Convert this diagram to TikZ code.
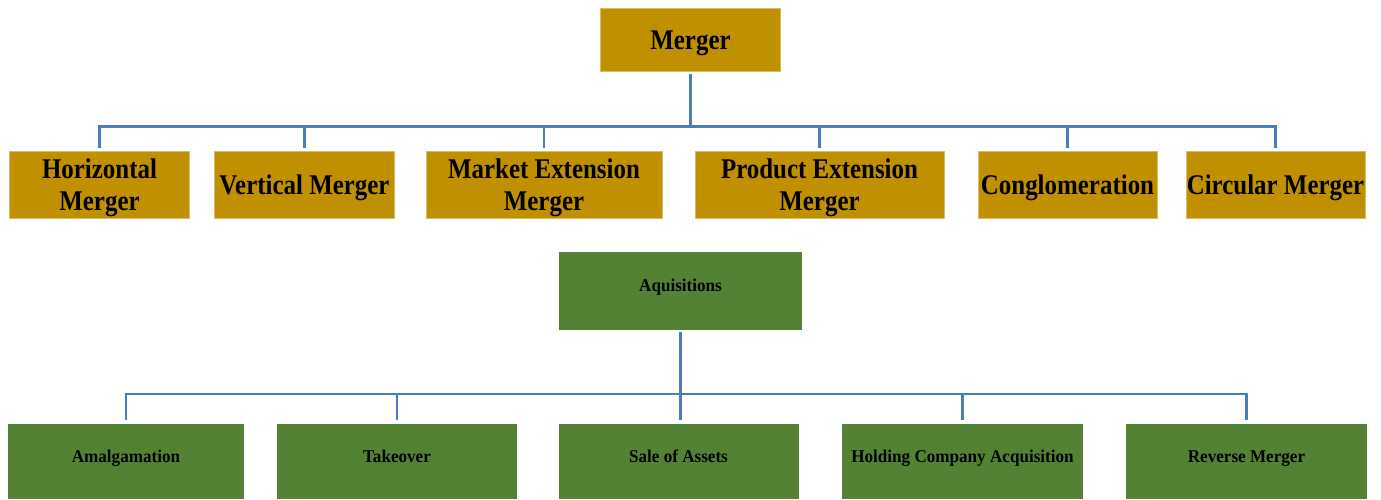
\documentclass[tikz,border=0pt]{standalone}
\usepackage{fontspec}
\setmainfont{Liberation Serif}
\newfontfamily\condf[FakeStretch=0.875]{Liberation Serif}
\newfontfamily\smallf[FakeStretch=0.95]{Liberation Serif}
\newcommand\mstrut{\rule{0pt}{25.5pt}}
\definecolor{gold}{RGB}{192,144,0}
\definecolor{leaf}{RGB}{84,130,53}
\definecolor{linkblue}{RGB}{74,126,187}
\begin{document}
\begin{tikzpicture}[x=1pt,y=-1pt,
  mbox/.style={fill=gold, draw=gold!60!white, line width=0.6pt, inner sep=0pt, align=center,
    font=\condf\bfseries\fontsize{28.5}{32}\selectfont, minimum height=67pt},
  abox/.style={fill=leaf, inner sep=0pt, align=center,
    font=\smallf\bfseries\fontsize{18}{21}\selectfont},
  conn/.style={draw=linkblue, line width=2.6pt}
]
\useasboundingbox (0,0) rectangle (1381,499);
% Merger tree
\node[mbox, minimum width=180pt, minimum height=63pt] (merger) at (690.5,39.5) {\mstrut Merger};
\node[mbox, minimum width=180pt] (hm) at (99.5,184.5) {\mstrut Horizontal\\Merger};
\node[mbox, minimum width=180pt] (vm) at (304.5,184.5) {\mstrut Vertical Merger};
\node[mbox, minimum width=236pt] (me) at (544,184.5) {\mstrut Market Extension\\Merger};
\node[mbox, minimum width=249pt] (pe) at (819.5,184.5) {\mstrut Product Extension\\Merger};
\node[mbox, minimum width=179pt] (cg) at (1067.5,184.5) {\mstrut Conglomeration};
\node[mbox, minimum width=179pt] (cm) at (1275.5,184.5) {\mstrut Circular Merger};
\coordinate (bus1) at (690.5,126.5);
\draw[conn] ([yshift=-3pt]merger.south) -- (bus1);
\draw[conn] ([yshift=3pt]hm.north) |- ([yshift=24.5pt]cm.north) -- ([yshift=3pt]cm.north);
\foreach \n in {vm,me,pe,cg}
  \draw[conn] ([yshift=24.5pt]\n.north) -- ([yshift=3pt]\n.north);
% Acquisitions tree
\node[abox, minimum width=243pt, minimum height=78pt, text depth=12pt] (acq) at (680.5,291) {Aquisitions};
\node[abox, minimum width=236pt, minimum height=75pt, text depth=10pt] (am) at (126,461.5) {Amalgamation};
\node[abox, minimum width=240pt, minimum height=75pt, text depth=10pt] (to) at (397,461.5) {Takeover};
\node[abox, minimum width=240pt, minimum height=75pt, text depth=10pt] (sa) at (678.5,461.5) {Sale of Assets};
\node[abox, minimum width=241pt, minimum height=75pt, text depth=10pt] (hc) at (962.5,461.5) {Holding Company Acquisition};
\node[abox, minimum width=241pt, minimum height=75pt, text depth=10pt] (rm) at (1246.5,461.5) {Reverse Merger};
\draw[conn] ([yshift=-2pt]acq.south) -- ([yshift=4pt]sa.north -| acq.south);
\draw[conn] ([yshift=4pt]am.north) |- ([yshift=30pt]rm.north) -- ([yshift=4pt]rm.north);
\foreach \n in {to,hc}
  \draw[conn] ([yshift=30pt]\n.north) -- ([yshift=4pt]\n.north);
\end{tikzpicture}
\end{document}
